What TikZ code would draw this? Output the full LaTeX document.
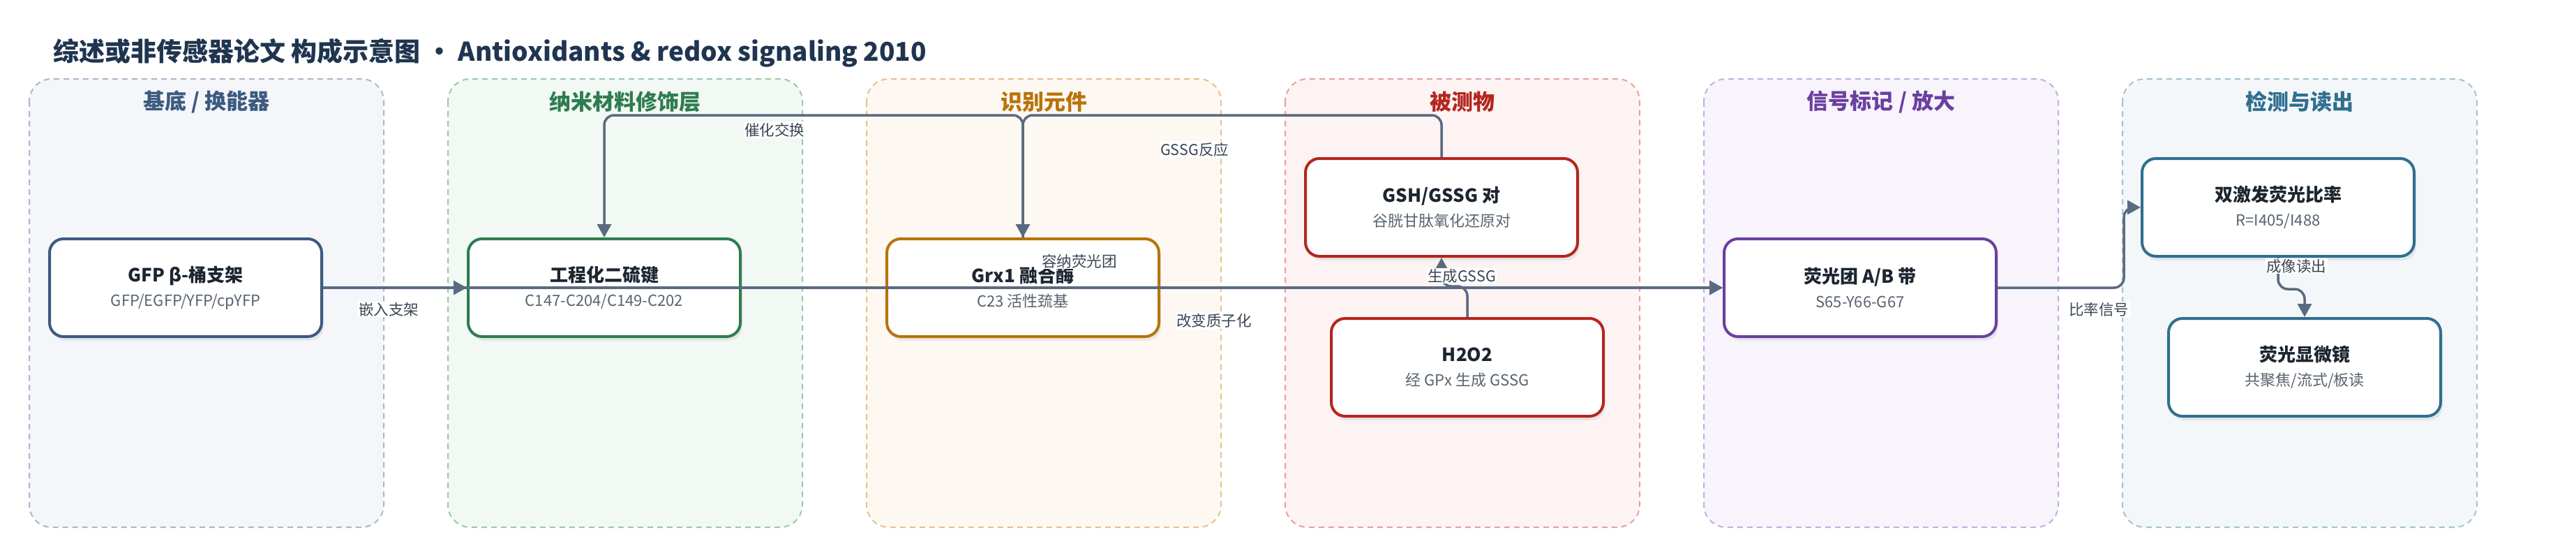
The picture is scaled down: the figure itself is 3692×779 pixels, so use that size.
\documentclass[tikz,border=0pt]{standalone}
\usepackage{fontspec}
\setmainfont{Noto Sans CJK SC}
\usetikzlibrary{arrows.meta,shadows,calc}

\definecolor{titlecol}{HTML}{1F3550}
\definecolor{edgecol}{HTML}{5A6A80}
\definecolor{nodetxt}{HTML}{1C2530}
\definecolor{subtxt}{HTML}{59636F}
\definecolor{lbltxt}{HTML}{3B4654}
% zone colours: line, fill, dashes
\definecolor{blueA}{HTML}{3D5A80}\definecolor{blueF}{HTML}{F4F6FA}\definecolor{blueD}{HTML}{A9B7CA}
\definecolor{greenA}{HTML}{2E7D4F}\definecolor{greenF}{HTML}{F2F8F4}\definecolor{greenD}{HTML}{9CC7AB}
\definecolor{orangeA}{HTML}{B8730B}\definecolor{orangeF}{HTML}{FDF8F1}\definecolor{orangeD}{HTML}{E6C08A}
\definecolor{redA}{HTML}{B3261E}\definecolor{redF}{HTML}{FDF3F3}\definecolor{redD}{HTML}{E6A0A0}
\definecolor{purpleA}{HTML}{6B3FA0}\definecolor{purpleF}{HTML}{F7F4FB}\definecolor{purpleD}{HTML}{C4AEE0}
\definecolor{tealA}{HTML}{2F6F8F}\definecolor{tealF}{HTML}{F3F7F9}\definecolor{tealD}{HTML}{A3C3D2}

\newcommand{\boxtext}[2]{{\bfseries #1}\\{\fontsize{22}{35}\selectfont\color{subtxt}#2}}

\begin{document}
\begin{tikzpicture}[x=1pt,y=-1pt,
    zone/.style={line width=2pt,dash pattern=on 8pt off 6pt,rounded corners=32pt},
    head/.style={text=#1,font=\fontsize{31}{34}\selectfont\bfseries,inner sep=0pt},
    box/.style={draw=#1,fill=white,line width=4pt,rounded corners=20pt,
      minimum width=390pt,minimum height=140pt,align=center,text=nodetxt,
      font=\fontsize{26}{35}\selectfont,
      drop shadow={opacity=0.13,shadow xshift=3pt,shadow yshift=-6pt}},
    link/.style={draw=edgecol,line width=3.5pt,rounded corners=14pt,
      -{Triangle[length=19pt,width=20pt]}},
    lbl/.style={fill=white,text=lbltxt,font=\fontsize{21.5}{24}\selectfont,inner sep=1.5pt}]
  \useasboundingbox (0,0) rectangle (3692,779);

  \node[anchor=west,inner sep=0pt,text=titlecol,font=\fontsize{37}{40}\selectfont\bfseries] (title) at (76,76)
    {综述或非传感器论文 构成示意图 · Antioxidants \& redox signaling 2010};

  % zones
  \draw[zone,fill=blueF,draw=blueD] (42,113) rectangle (550,755);
  \draw[zone,fill=greenF,draw=greenD] (642,113) rectangle (1150,755);
  \draw[zone,fill=orangeF,draw=orangeD] (1242,113) rectangle (1750,755);
  \draw[zone,fill=redF,draw=redD] (1842,113) rectangle (2350,755);
  \draw[zone,fill=purpleF,draw=purpleD] (2442,113) rectangle (2950,755);
  \draw[zone,fill=tealF,draw=tealD] (3042,113) rectangle (3550,755);

  \node[head=blueA] (hsub) at (296,146) {基底 / 换能器};
  \node[head=greenA] (hnano) at (896,146) {纳米材料修饰层};
  \node[head=orangeA] (hrec) at (1496,146) {识别元件};
  \node[head=redA] (hana) at (2096,146) {被测物};
  \node[head=purpleA] (hsig) at (2696,146) {信号标记 / 放大};
  \node[head=tealA] (hdet) at (3296,146) {检测与读出};

  % boxes
  \node[box=blueA] (gfp) at (266,412) {\boxtext{GFP β-桶支架}{GFP/EGFP/YFP/cpYFP}};
  \node[box=greenA] (ssbond) at (866,412) {\boxtext{工程化二硫键}{C147-C204/C149-C202}};
  \node[box=orangeA] (grx) at (1466,412) {\boxtext{Grx1 融合酶}{C23 活性巯基}};
  \node[box=redA] (gsh) at (2066,297) {\boxtext{GSH/GSSG 对}{谷胱甘肽氧化还原对}};
  \node[box=redA] (hoo) at (2103,526) {\boxtext{H2O2}{经 GPx 生成 GSSG}};
  \node[box=purpleA] (chromo) at (2666,412) {\boxtext{荧光团 A/B 带}{S65-Y66-G67}};
  \node[box=tealA] (ratio) at (3265,297) {\boxtext{双激发荧光比率}{R=I405/I488}};
  \node[box=tealA] (scope) at (3303,526) {\boxtext{荧光显微镜}{共聚焦/流式/板读}};

  \coordinate (topbus) at (0,165);

  % links
  \draw[link] (gfp.east) -- (ssbond.west);
  \node[lbl] (l1) at (557,443) {嵌入支架};
  \draw[link] (gfp.east) -- (chromo.west);
  \draw[link] (ssbond.east) -- (chromo.west);
  \node[lbl] (l3) at (1740,459) {改变质子化};
  \draw[link] (grx.north) -- (grx.north |- topbus) -| (ssbond.north);
  \node[lbl] (l4) at (1110,186) {催化交换};
  \draw[link] (gsh.north) -- (gsh.north |- topbus) -| (grx.north);
  \node[lbl] (l5) at (1712,214) {GSSG反应};
  \draw[link] (hoo.north) -- ++(0,-44) -| (gsh.south);
  \node[lbl] (l6) at (2095,395) {生成GSSG};
  \draw[link] (chromo.east) -- ++(181,0) |- (ratio.west);
  \node[lbl] (l7) at (3008,443) {比率信号};
  \draw[link] (ratio.south) -- ++(0,45) -| (scope.north);
  \node[lbl] (l8) at (3291,381) {成像读出};
  \node[lbl] (l2) at (1547,374) {容纳荧光团};
\end{tikzpicture}
\end{document}
